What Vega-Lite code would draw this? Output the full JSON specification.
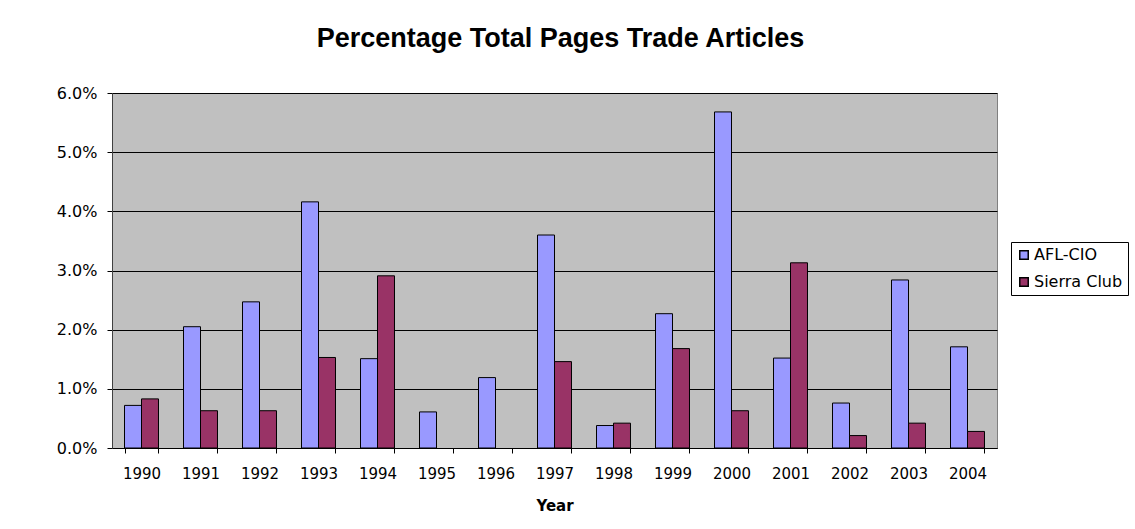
{
  "$schema": "https://vega.github.io/schema/vega-lite/v6.json",
  "width": 885,
  "height": 355,
  "autosize": {"type": "none"},
  "padding": {"left": 112, "top": 93, "right": 138, "bottom": 81},
  "background": "white",
  "title": {
    "text": "Percentage Total Pages Trade Articles",
    "font": "Liberation Sans",
    "fontSize": 27,
    "fontWeight": "bold",
    "color": "black",
    "anchor": "middle",
    "frame": "group",
    "baseline": "alphabetic",
    "dx": 6,
    "offset": 11
  },
  "data": {
    "values": [
      {"Year": "1990", "Org": "AFL-CIO", "Pct": 0.0072},
      {"Year": "1990", "Org": "Sierra Club", "Pct": 0.0083},
      {"Year": "1991", "Org": "AFL-CIO", "Pct": 0.0205},
      {"Year": "1991", "Org": "Sierra Club", "Pct": 0.0063},
      {"Year": "1992", "Org": "AFL-CIO", "Pct": 0.0247},
      {"Year": "1992", "Org": "Sierra Club", "Pct": 0.0063},
      {"Year": "1993", "Org": "AFL-CIO", "Pct": 0.0416},
      {"Year": "1993", "Org": "Sierra Club", "Pct": 0.0153},
      {"Year": "1994", "Org": "AFL-CIO", "Pct": 0.0151},
      {"Year": "1994", "Org": "Sierra Club", "Pct": 0.0291},
      {"Year": "1995", "Org": "AFL-CIO", "Pct": 0.0061},
      {"Year": "1996", "Org": "AFL-CIO", "Pct": 0.0119},
      {"Year": "1997", "Org": "AFL-CIO", "Pct": 0.0360},
      {"Year": "1997", "Org": "Sierra Club", "Pct": 0.0146},
      {"Year": "1998", "Org": "AFL-CIO", "Pct": 0.0038},
      {"Year": "1998", "Org": "Sierra Club", "Pct": 0.0042},
      {"Year": "1999", "Org": "AFL-CIO", "Pct": 0.0227},
      {"Year": "1999", "Org": "Sierra Club", "Pct": 0.0168},
      {"Year": "2000", "Org": "AFL-CIO", "Pct": 0.0568},
      {"Year": "2000", "Org": "Sierra Club", "Pct": 0.0063},
      {"Year": "2001", "Org": "AFL-CIO", "Pct": 0.0152},
      {"Year": "2001", "Org": "Sierra Club", "Pct": 0.0313},
      {"Year": "2002", "Org": "AFL-CIO", "Pct": 0.0076},
      {"Year": "2002", "Org": "Sierra Club", "Pct": 0.0021},
      {"Year": "2003", "Org": "AFL-CIO", "Pct": 0.0284},
      {"Year": "2003", "Org": "Sierra Club", "Pct": 0.0042},
      {"Year": "2004", "Org": "AFL-CIO", "Pct": 0.0171},
      {"Year": "2004", "Org": "Sierra Club", "Pct": 0.0028}
    ]
  },
  "mark": {"type": "bar", "stroke": "black", "strokeWidth": 1},
  "encoding": {
    "x": {
      "field": "Year",
      "type": "nominal",
      "scale": {"paddingInner": 0.424, "paddingOuter": 0.212},
      "axis": {
        "title": "Year",
        "titleFont": "DejaVu Sans",
        "titleFontSize": 15,
        "titleFontWeight": "bold",
        "titleColor": "black",
        "titlePadding": 17,
        "labelAngle": 0,
        "labelFont": "DejaVu Sans",
        "labelFontSize": 15,
        "labelColor": "black",
        "labelPadding": 13,
        "tickBand": "extent",
        "tickColor": "black",
        "tickSize": 5,
        "domainColor": "black",
        "grid": false
      }
    },
    "xOffset": {"field": "Org", "type": "nominal", "scale": {"domain": ["AFL-CIO", "Sierra Club"], "paddingInner": 0, "paddingOuter": 0}},
    "y": {
      "field": "Pct",
      "type": "quantitative",
      "scale": {"domain": [0, 0.06], "nice": false},
      "axis": {
        "title": null,
        "values": [0, 0.01, 0.02, 0.03, 0.04, 0.05, 0.06],
        "format": ".1%",
        "labelFont": "DejaVu Sans",
        "labelFontSize": 16,
        "labelColor": "black",
        "labelPadding": 10,
        "tickColor": "black",
        "tickSize": 5,
        "domainColor": "#404040",
        "grid": true,
        "gridColor": "black",
        "gridOpacity": 1,
        "gridWidth": 1
      }
    },
    "color": {
      "field": "Org",
      "type": "nominal",
      "scale": {"domain": ["AFL-CIO", "Sierra Club"], "range": ["#9999FF", "#993366"]},
      "legend": {
        "title": null,
        "orient": "none",
        "legendX": 899,
        "legendY": 149,
        "strokeColor": "black",
        "fillColor": "white",
        "padding": 5,
        "labelFont": "DejaVu Sans",
        "labelFontSize": 16,
        "labelColor": "black",
        "symbolType": "square",
        "symbolSize": 72,
        "symbolStrokeColor": "black",
        "symbolStrokeWidth": 1.5,
        "symbolOpacity": 1,
        "rowPadding": 11,
        "labelOffset": 2
      }
    }
  },
  "config": {
    "view": {"fill": "#C0C0C0", "stroke": "#808080", "strokeWidth": 1}
  }
}
